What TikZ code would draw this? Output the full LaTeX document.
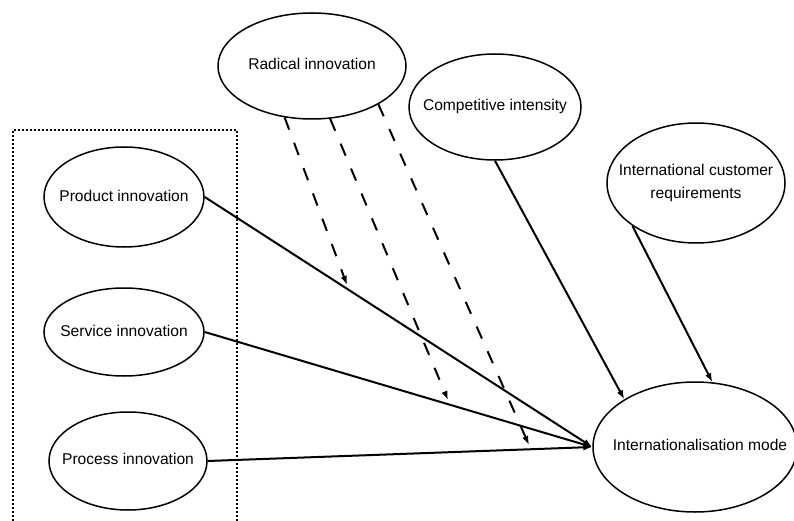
\documentclass[tikz,border=0pt]{standalone}
\usepackage{fontspec}
\setmainfont{Liberation Sans}
\usetikzlibrary{shapes.geometric,arrows.meta}
\begin{document}
\begin{tikzpicture}[x=1pt,y=-1pt,
  oval/.style={draw,ellipse,line width=1.5pt,inner sep=0pt,font=\fontsize{15.6}{19}\selectfont},
  solidarrow/.style={line width=2pt,-{Latex[length=9pt,width=6.5pt]}},
  dasharrow/.style={line width=2pt,dash pattern=on 13pt off 14pt,-{Latex[length=9pt,width=6.5pt]}},
  boxline/.style={line width=1.7pt,dash pattern=on 2pt off 2pt}]
\useasboundingbox (0,0) rectangle (794,521);
% dotted frame
\draw[boxline] (13,521) -- (13,130) -- (237,130) -- (237,521);
% nodes
\node[oval,minimum width=188pt,minimum height=106pt] (rad) at (312,66) {\raisebox{5pt}{\makebox[0pt]{Radical innovation}}};
\node[oval,minimum width=172pt,minimum height=106pt] (comp) at (495,107) {\raisebox{4pt}{\makebox[0pt]{Competitive intensity}}};
\node[oval,minimum width=178pt,minimum height=120pt] (icr) at (696,183) {\raisebox{1pt}{\makebox[0pt]{\shortstack{International customer\\[8pt]requirements}}}};
\node[oval,minimum width=160pt,minimum height=100pt] (prod) at (124,197) {\raisebox{3pt}{\makebox[0pt]{Product innovation}}};
\node[oval,minimum width=160pt,minimum height=88pt] (serv) at (124,332) {\raisebox{3pt}{\makebox[0pt]{Service innovation}}};
\node[oval,minimum width=158pt,minimum height=98pt] (proc) at (128,461) {\raisebox{4pt}{\makebox[0pt]{Process innovation}}};
\node[oval,minimum width=204pt,minimum height=130pt] (mode) at (695,447) {\raisebox{4pt}{\makebox[0pt]{\hspace{10pt}Internationalisation mode}}};
% free ends of moderating arrows
\coordinate (m1) at (347,285);
\coordinate (m2) at (448,400);
\coordinate (m3) at (529,445);
% connectors
\draw[solidarrow] (prod.east) -- (mode.west);
\draw[solidarrow] (serv.east) -- (mode.west);
\draw[solidarrow] (proc.east) -- (mode.west);
\draw[solidarrow] (comp.south) -- (mode.146);
\draw[solidarrow] (icr.214) -- (mode.75);
\draw[dasharrow] (rad.242) -- (m1);
\draw[dasharrow] (rad.289) -- (m2);
\draw[dasharrow] (rad.330) -- (m3);
\end{tikzpicture}
\end{document}
